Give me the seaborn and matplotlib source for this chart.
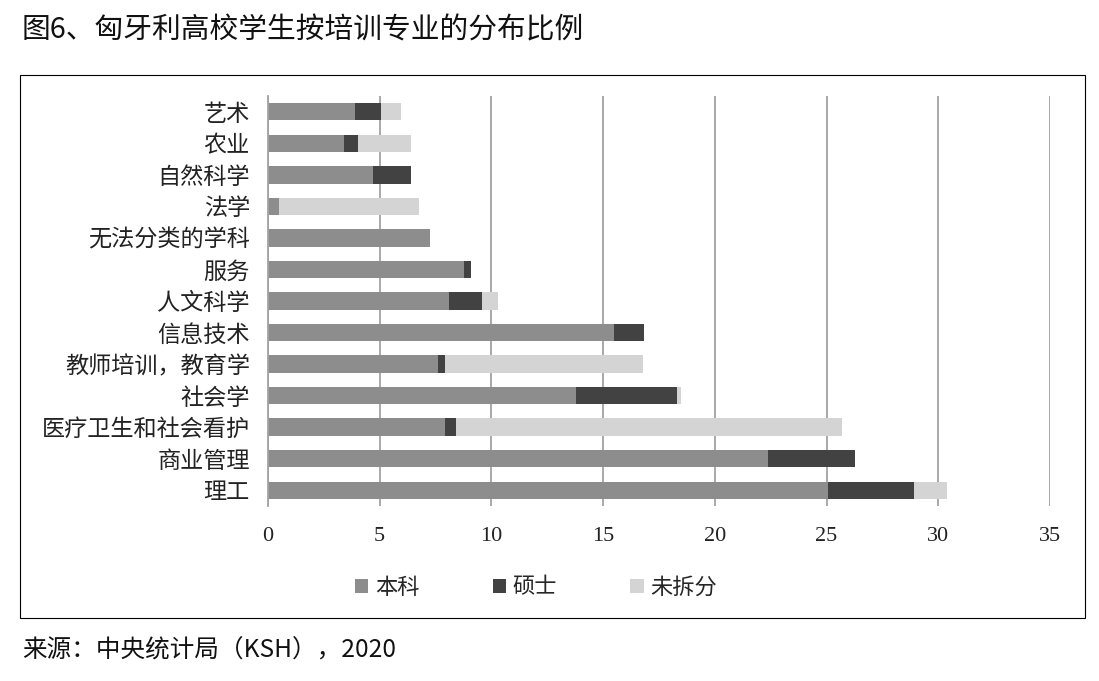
import numpy as np
import pandas as pd
import matplotlib
matplotlib.use("Agg")
import matplotlib.pyplot as plt
import seaborn as sns
from matplotlib.patches import Rectangle, Patch

# data (percent of students)
categories = ["艺术", "农业", "自然科学", "法学", "无法分类的学科", "服务", "人文科学",
              "信息技术", "教师培训，教育学", "社会学", "医疗卫生和社会看护", "商业管理", "理工"]
bachelor = [3.9, 3.4, 4.7, 0.5, 7.25, 8.75, 8.1, 15.5, 7.6, 13.8, 7.9, 22.4, 25.05]
master = [1.15, 0.65, 1.7, 0.0, 0.0, 0.35, 1.5, 1.35, 0.3, 4.5, 0.5, 3.85, 3.85]
unsplit = [0.9, 2.35, 0.0, 6.25, 0.0, 0.0, 0.7, 0.0, 8.9, 0.2, 17.3, 0.0, 1.5]
series_names = ["本科", "硕士", "未拆分"]
series_colors = ["#8d8d8d", "#424242", "#d4d4d4"]
x_ticks = [0, 5, 10, 15, 20, 25, 30, 35]

title = "图6、匈牙利高校学生按培训专业的分布比例"
source = "来源：中央统计局（KSH），2020"

sns.set_theme(style="white")
plt.rcParams["font.family"] = ["Noto Sans CJK SC", "DejaVu Sans"]

df = pd.DataFrame({"专业": categories, "本科": bachelor, "硕士": master, "未拆分": unsplit})
df["本科+硕士"] = df["本科"] + df["硕士"]
df["合计"] = df["本科+硕士"] + df["未拆分"]

W, H = 1099, 681
fig = plt.figure(figsize=(W / 100, H / 100), dpi=100)
ax = fig.add_axes([268 / W, 1 - 506 / H, (1050 - 268) / W, (506 - 96) / H])

# stacked bars drawn as overlapping cumulative layers
for col, color in zip(["合计", "本科+硕士", "本科"], series_colors[::-1]):
    sns.barplot(data=df, x=col, y="专业", color=color, width=0.55, saturation=1,
                linewidth=0, orient="h", ax=ax)

ax.set_xlim(0, 35)
ax.set_xticks(x_ticks)
ax.set_xticklabels([str(t) for t in x_ticks], fontfamily="Liberation Serif", fontsize=16)
ax.tick_params(axis="x", length=0, pad=15, colors="#222222")
ax.tick_params(axis="y", length=0, pad=13, labelsize=16.7, colors="#222222")
ax.set_xlabel("")
ax.set_ylabel("")
ax.xaxis.grid(True, color="#a3a3a3", linewidth=1.3)
ax.set_axisbelow(True)
for side in ["top", "right", "bottom"]:
    ax.spines[side].set_visible(False)
ax.spines["left"].set_color("#a3a3a3")
ax.spines["left"].set_linewidth(1.3)

handles = [Patch(facecolor=c, edgecolor="none") for c in series_colors]
fig.legend(handles, series_names, loc="center", bbox_to_anchor=(536 / W, 1 - 587 / H),
           ncol=3, frameon=False, fontsize=16, handlelength=0.6, handleheight=0.6,
           handletextpad=0.3, columnspacing=3.3)

fig.add_artist(Rectangle((20 / W, 1 - 618 / H), (1085 - 20) / W, (618 - 75) / H,
                         transform=fig.transFigure, fill=False, edgecolor="black", linewidth=0.8))

fig.text(22 / W, 1 - 30 / H, title, fontsize=20.7, va="center", ha="left", color="#111111")
fig.text(22 / W, 1 - 650 / H, source, fontsize=17.7, va="center", ha="left", color="#111111")

fig.savefig("out.png", dpi=100)
